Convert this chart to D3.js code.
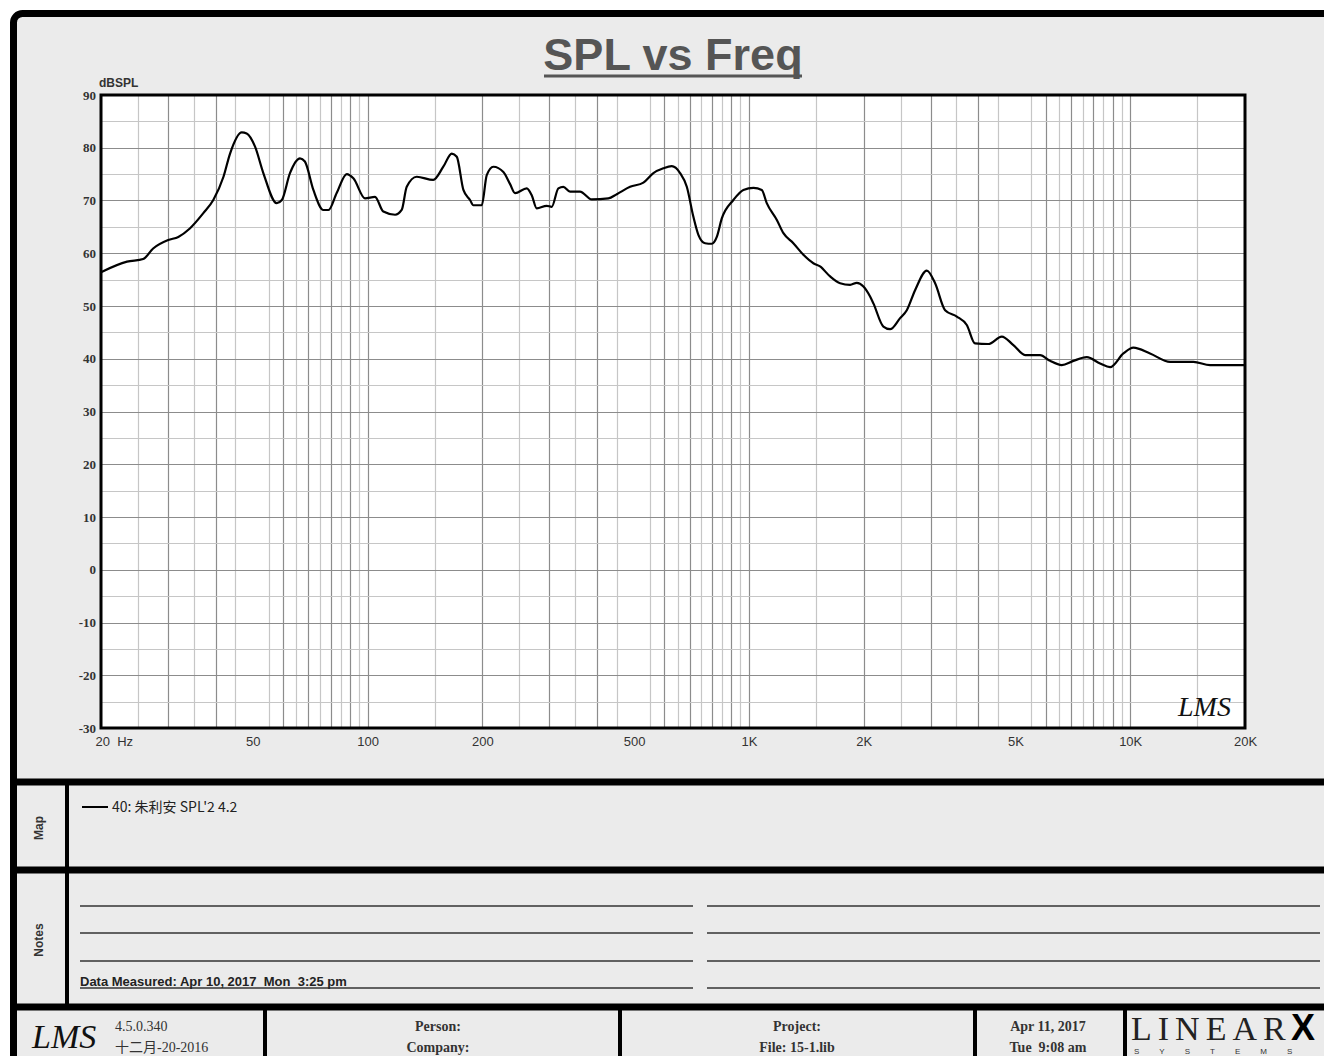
<!DOCTYPE html>
<html>
	<head>
		<title>SPL vs Freq</title>
		<script src="https://d3js.org/d3.v7.min.js"></script>
		<style>
			body { margin: 0; background: #fff; }
			text { font-family: "Liberation Sans Narrow", "Liberation Sans", Arial, sans-serif; }
		</style>
	</head>
	<body>
		<script type="text/javascript">
			// measured curve
			var freqHz = [20, 23.4, 25.8, 27.4, 30, 31.9, 34.2, 37.1, 39.4, 41.9, 43.6, 46.8, 48.2, 50.7, 53.3, 57.8, 59.6, 62.6, 66.5, 68.5,
				72.1, 76.6, 79, 83, 88.2, 91.8, 98.5, 104.6, 110, 118.1, 122.9, 126.7, 134.6, 148.7, 158, 166.3, 171.4, 178.4, 185.7, 189.4,
				199.3, 205.4, 213.8, 227.1, 236.5, 243.7, 261.5, 269.5, 277.8, 295.1, 304.1, 316.5, 326.2, 339.6, 360.7, 387.3, 428.1, 450.4, 488.1, 528.9,
				561.8, 596.7, 627.7, 660.1, 687.4, 715.3, 737.2, 767.7, 799.5, 823.9, 849.2, 910.8, 967.4, 1028, 1081, 1114, 1184, 1232, 1308, 1390,
				1476, 1537, 1633, 1735, 1843, 1919, 1997, 2079, 2121, 2253, 2346, 2492, 2595, 2728, 2929, 3079, 3270, 3510, 3728, 3919,
				4247, 4605, 4939, 5302, 5803, 6164, 6615, 7096, 7694, 8337, 8855, 9598, 10192, 11273, 12726, 14647, 16197, 20000];
			var splDb = [56.4, 58.4, 58.9, 60.9, 62.5, 63.1, 64.7, 67.6, 70.1, 74.5, 78.9, 82.9, 82.7, 80.2, 75.2, 69.5, 70.1, 75.2, 78.0, 77.4,
				72.0, 68.2, 68.2, 71.4, 75.0, 74.2, 70.4, 70.7, 67.9, 67.3, 68.2, 72.6, 74.5, 73.9, 76.4, 78.9, 78.3, 72.0, 70.1, 69.1,
				69.1, 74.8, 76.4, 75.4, 73.1, 71.4, 72.3, 71.0, 68.5, 69.0, 68.8, 72.3, 72.6, 71.7, 71.7, 70.2, 70.4, 71.2, 72.6, 73.4,
				75.2, 76.1, 76.5, 75.2, 72.6, 66.9, 63.5, 61.9, 61.8, 63.1, 66.6, 70.1, 72.0, 72.4, 72.0, 69.5, 66.3, 63.8, 61.9, 59.7,
				58.1, 57.5, 55.6, 54.3, 54.0, 54.4, 53.7, 51.8, 50.5, 46.1, 45.6, 47.7, 49.2, 53.0, 56.7, 54.3, 49.2, 48.0, 46.4, 42.9,
				42.8, 44.2, 42.6, 40.7, 40.7, 39.6, 38.8, 39.6, 40.3, 39.1, 38.4, 41.0, 42.1, 41.0, 39.4, 39.4, 38.8, 38.8];

			var yTicks = [90, 80, 70, 60, 50, 40, 30, 20, 10, 0, -10, -20, -30];
			var xTickValues = [20, 50, 100, 200, 500, 1000, 2000, 5000, 10000, 20000];
			var xTickLabels = ["20  Hz", "50", "100", "200", "500", "1K", "2K", "5K", "10K", "20K"];
			// grid multiples inside each decade (5 is left out, as on the original)
			var gridMults = [1.5, 2, 2.5, 3, 3.5, 4, 4.5, 5.5, 6, 6.5, 7, 7.5, 8, 8.5, 9, 9.5, 10];

			var legendText = "40: 朱利安 SPL'2 4.2";
			var measuredText = "Data Measured: Apr 10, 2017  Mon  3:25 pm";
			var footerCells = [
				{x: 438, l1: "Person:", l2: "Company:"},
				{x: 797, l1: "Project:", l2: "File: 15-1.lib"},
				{x: 1048, l1: "Apr 11, 2017", l2: "Tue  9:08 am"}
			];

			var svg = d3.select("body").append("svg").attr("width", 1324).attr("height", 1056);

			// outer frame
			svg.append("rect").attr("x", 13.5).attr("y", 13.5).attr("width", 1400).attr("height", 1100).attr("rx", 9)
				.attr("fill", "#ebebeb").attr("stroke", "#000").attr("stroke-width", 7);

			// title
			svg.append("text").attr("x", 673).attr("y", 70).attr("text-anchor", "middle")
				.style("font-family", "'Liberation Sans', Arial, sans-serif").style("font-size", "45px").style("font-weight", "bold")
				.attr("fill", "#555").text("SPL vs Freq");
			svg.append("line").attr("x1", 544).attr("x2", 802).attr("y1", 76).attr("y2", 76).attr("stroke", "#555").attr("stroke-width", 3);

			var plotL = 101, plotR = 1245, plotT = 95, plotB = 728;
			var x = d3.scaleLog().domain([20, 20000]).range([plotL, plotR]);
			var y = d3.scaleLinear().domain([-30, 90]).range([plotB, plotT]);

			svg.append("rect").attr("x", plotL).attr("y", plotT).attr("width", plotR - plotL).attr("height", plotB - plotT).attr("fill", "#fff");

			// grid
			var vGrid = [];
			[10, 100, 1000, 10000].forEach(function(dec){
				gridMults.forEach(function(m){
					var f = dec * m;
					if (f > 20 && f < 20000) vGrid.push({f: f, major: m % 1 == 0});
				});
			});
			var g = svg.append("g");
			g.selectAll(".vg").data(vGrid).enter().append("line")
				.attr("x1", function(d){ return Math.round(x(d.f)) + 0.5; }).attr("x2", function(d){ return Math.round(x(d.f)) + 0.5; })
				.attr("y1", plotT).attr("y2", plotB)
				.attr("stroke", function(d){ return d.major ? "#8c8c8c" : "#c6c6c6"; }).attr("stroke-width", 1.2);
			g.selectAll(".hg").data(d3.range(-25, 90, 5)).enter().append("line")
				.attr("x1", plotL).attr("x2", plotR)
				.attr("y1", function(d){ return Math.round(y(d)) + 0.5; }).attr("y2", function(d){ return Math.round(y(d)) + 0.5; })
				.attr("stroke", function(d){ return d % 10 == 0 ? "#8c8c8c" : "#c6c6c6"; }).attr("stroke-width", 1.2);

			// curve
			var pts = freqHz.map(function(f, i){ return [f, splDb[i]]; });
			var line = d3.line().x(function(d){ return x(d[0]); }).y(function(d){ return y(d[1]); }).curve(d3.curveMonotoneX);
			svg.append("path").datum(pts).attr("d", line).attr("fill", "none").attr("stroke", "#000").attr("stroke-width", 2.2);

			// plot border
			svg.append("rect").attr("x", plotL).attr("y", plotT).attr("width", plotR - plotL).attr("height", plotB - plotT)
				.attr("fill", "none").attr("stroke", "#000").attr("stroke-width", 3);

			// axes
			var yAxis = svg.append("g").attr("transform", "translate(" + (plotL - 2) + ",0)")
				.call(d3.axisLeft(y).tickValues(yTicks).tickSize(0).tickPadding(3).tickFormat(function(d){ return String(d); }));
			yAxis.select(".domain").remove();
			yAxis.selectAll("text").style("font-family", "'Liberation Serif', serif").style("font-size", "13px")
				.style("font-weight", "bold").attr("fill", "#333");
			svg.append("text").attr("x", 99).attr("y", 87).style("font-family", "'Liberation Sans', Arial, sans-serif")
				.style("font-size", "12px").style("font-weight", "bold").attr("fill", "#333").text("dBSPL");

			var xAxis = svg.append("g").attr("transform", "translate(0," + plotB + ")")
				.call(d3.axisBottom(x).tickValues(xTickValues).tickSize(0).tickPadding(9)
					.tickFormat(function(d, i){ return xTickLabels[i]; }));
			xAxis.select(".domain").remove();
			xAxis.selectAll("text").style("font-size", "13px").attr("fill", "#333").attr("xml:space", "preserve");
			xAxis.selectAll("text").filter(function(d){ return d == 20; }).attr("text-anchor", "start").attr("dx", -6);

			// LMS mark inside the plot
			svg.append("text").attr("x", 1178).attr("y", 716).style("font-family", "'Liberation Serif', serif")
				.style("font-style", "italic").style("font-size", "28px").attr("fill", "#111").text("LMS");

			// panel separators
			[782, 870, 1007].forEach(function(yy){
				svg.append("line").attr("x1", 10).attr("x2", 1324).attr("y1", yy).attr("y2", yy).attr("stroke", "#000").attr("stroke-width", 7);
			});
			svg.append("line").attr("x1", 67).attr("x2", 67).attr("y1", 782).attr("y2", 1007).attr("stroke", "#000").attr("stroke-width", 4);
			[265, 620, 975, 1125].forEach(function(xx){
				svg.append("line").attr("x1", xx).attr("x2", xx).attr("y1", 1007).attr("y2", 1056).attr("stroke", "#000").attr("stroke-width", 4);
			});

			// side labels
			svg.append("text").attr("transform", "translate(43,828) rotate(-90)").attr("text-anchor", "middle")
				.style("font-family", "'Liberation Sans', Arial, sans-serif").style("font-size", "12px").style("font-weight", "bold")
				.attr("fill", "#333").text("Map");
			svg.append("text").attr("transform", "translate(43,940) rotate(-90)").attr("text-anchor", "middle")
				.style("font-family", "'Liberation Sans', Arial, sans-serif").style("font-size", "12px").style("font-weight", "bold")
				.attr("fill", "#333").text("Notes");

			// legend
			svg.append("line").attr("x1", 82).attr("x2", 108).attr("y1", 807).attr("y2", 807).attr("stroke", "#000").attr("stroke-width", 2);
			svg.append("text").attr("x", 112).attr("y", 812).style("font-size", "14px").attr("fill", "#222")
				.style("font-family", "'Liberation Sans Narrow', 'Noto Sans CJK SC', sans-serif").text(legendText);

			// notes lines
			[906, 933, 961, 988].forEach(function(yy){
				svg.append("line").attr("x1", 80).attr("x2", 693).attr("y1", yy).attr("y2", yy).attr("stroke", "#333").attr("stroke-width", 1.5);
				svg.append("line").attr("x1", 707).attr("x2", 1320).attr("y1", yy).attr("y2", yy).attr("stroke", "#333").attr("stroke-width", 1.5);
			});
			svg.append("text").attr("x", 80).attr("y", 986).attr("xml:space", "preserve").style("font-size", "13px")
				.style("font-weight", "bold").attr("fill", "#222").text(measuredText);

			// footer
			svg.append("text").attr("x", 32).attr("y", 1048).style("font-family", "'Liberation Serif', serif")
				.style("font-style", "italic").style("font-size", "34px").attr("fill", "#111").text("LMS");
			svg.append("text").attr("x", 115).attr("y", 1031).style("font-family", "'Liberation Serif', serif")
				.style("font-size", "14px").attr("fill", "#333").text("4.5.0.340");
			svg.append("text").attr("x", 115).attr("y", 1052).style("font-family", "'Liberation Serif', 'Noto Sans CJK SC', serif")
				.style("font-size", "14px").attr("fill", "#333").text("十二月-20-2016");
			var cells = svg.selectAll(".cell").data(footerCells).enter().append("g");
			cells.append("text").attr("x", function(d){ return d.x; }).attr("y", 1031).attr("text-anchor", "middle")
				.attr("xml:space", "preserve").style("font-family", "'Liberation Serif', serif").style("font-size", "14px")
				.style("font-weight", "bold").attr("fill", "#333").text(function(d){ return d.l1; });
			cells.append("text").attr("x", function(d){ return d.x; }).attr("y", 1052).attr("text-anchor", "middle")
				.attr("xml:space", "preserve").style("font-family", "'Liberation Serif', serif").style("font-size", "14px")
				.style("font-weight", "bold").attr("fill", "#333").text(function(d){ return d.l2; });

			// LinearX logo
			svg.append("text").attr("x", 1131).attr("y", 1040).style("font-family", "'Liberation Serif', serif")
				.style("font-size", "34px").style("letter-spacing", "6px").attr("fill", "#222").text("LINEAR");
			svg.append("text").attr("x", 1291).attr("y", 1040).style("font-family", "'Liberation Sans', Arial, sans-serif")
				.style("font-size", "36px").style("font-weight", "900").attr("fill", "#000").text("X");
			svg.append("text").attr("x", 1134).attr("y", 1054).attr("xml:space", "preserve")
				.style("font-family", "'Liberation Sans', Arial, sans-serif").style("font-size", "8px").style("letter-spacing", "20px")
				.attr("fill", "#333").text("SYSTEMS");
		</script>
	</body>
</html>
